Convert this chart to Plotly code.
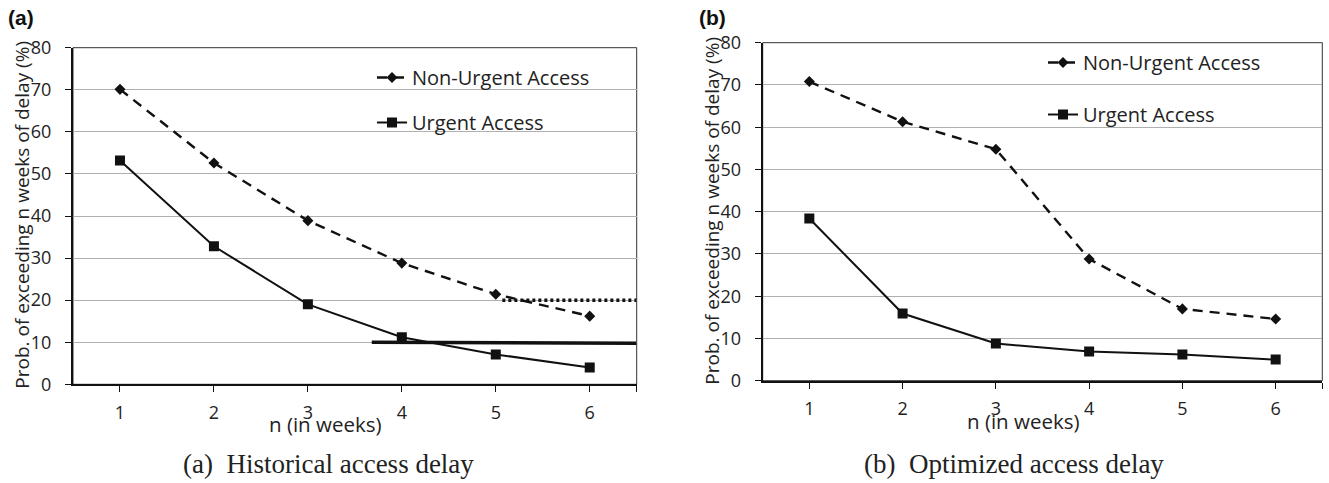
import plotly.graph_objects as go

# ---------------- data ----------------
weeks = [1, 2, 3, 4, 5, 6]
tick_labels = ["1", "2", "3", "4", "5", "6"]

hist_non_urgent = [70.1, 52.6, 38.9, 28.8, 21.4, 16.2]
hist_urgent = [53.2, 32.8, 19.0, 11.2, 7.1, 4.0]

opt_non_urgent = [70.8, 61.3, 54.8, 28.8, 17.0, 14.6]
opt_urgent = [38.4, 15.9, 8.8, 6.9, 6.2, 5.0]

# target lines in panel (a)
target_non_urgent_x = [5.07, 6.5]
target_non_urgent_y = [20.0, 20.0]
target_urgent_x = [3.68, 6.5]
target_urgent_y = [10.0, 9.75]

y_ticks = [0, 10, 20, 30, 40, 50, 60, 70, 80]

# ---------------- figure ----------------
W, H = 1329, 483
SANS = "Open Sans"
SERIF = "Liberation Serif"
INK = "#111111"
TXT = "#222222"

fig = go.Figure()

def add_panel(xa, ya, leg, non_urgent, urgent):
    fig.add_trace(go.Scatter(
        x=weeks, y=non_urgent, mode="lines+markers", name="Non-Urgent Access",
        xaxis=xa, yaxis=ya, legend=leg, legendgroup=leg + "nu",
        line=dict(color=INK, width=2.4, dash="10px,7px"),
        marker=dict(symbol="diamond", size=8.5, color=INK),
    ))
    fig.add_trace(go.Scatter(
        x=weeks, y=urgent, mode="lines+markers", name="Urgent Access",
        xaxis=xa, yaxis=ya, legend=leg, legendgroup=leg + "u",
        line=dict(color=INK, width=2),
        marker=dict(symbol="square", size=10, color=INK),
    ))

add_panel("x", "y", "legend", hist_non_urgent, hist_urgent)
add_panel("x2", "y2", "legend2", opt_non_urgent, opt_urgent)

fig.add_trace(go.Scatter(
    x=target_non_urgent_x, y=target_non_urgent_y, mode="lines", showlegend=False,
    xaxis="x", yaxis="y", line=dict(color=INK, width=3.5, dash="3px,3px"),
))
fig.add_trace(go.Scatter(
    x=target_urgent_x, y=target_urgent_y, mode="lines", showlegend=False,
    xaxis="x", yaxis="y", line=dict(color=INK, width=3.5),
))

# ---------------- axes ----------------
def px_x(p):
    return p / W

def px_y(p):
    return 1 - p / H

xdom1 = [px_x(73), px_x(636.7)]
ydom1 = [px_y(384.3), px_y(47.7)]
xdom2 = [px_x(762.7), px_x(1322.3)]
ydom2 = [px_y(380.7), px_y(42.7)]

xcommon = dict(
    range=[0.5, 6.5], tickvals=weeks + [6.5], ticktext=tick_labels + [""],
    ticks="outside", ticklen=6, tickcolor=INK, tickwidth=1,
    showline=True, linecolor=INK, linewidth=2, showgrid=False, zeroline=False,
    tickfont=dict(family=SANS, size=18, color=TXT),
    ticklabelstandoff=5, fixedrange=True, automargin=False,
)
ycommon = dict(
    range=[0, 80], tickvals=y_ticks, ticks="outside", ticklen=6, tickcolor=INK,
    tickwidth=1, showline=True, linecolor=INK, linewidth=2,
    showgrid=True, gridcolor="#b0b0b0", gridwidth=1, zeroline=False,
    tickfont=dict(family=SANS, size=18, color=TXT),
    ticklabelstandoff=10, fixedrange=True, automargin=False,
)

fig.update_layout(
    width=W, height=H,
    margin=dict(l=0, r=0, t=0, b=0, pad=0, autoexpand=False),
    paper_bgcolor="white", plot_bgcolor="white",
    xaxis=dict(domain=xdom1, anchor="y", **xcommon),
    yaxis=dict(domain=ydom1, anchor="x", **ycommon),
    xaxis2=dict(domain=xdom2, anchor="y2", **xcommon),
    yaxis2=dict(domain=ydom2, anchor="x2", **ycommon),
    legend=dict(x=px_x(372), y=px_y(58), xanchor="left", yanchor="top",
                bgcolor="rgba(0,0,0,0)", tracegroupgap=16,
                font=dict(family=SANS, size=20, color=TXT)),
    legend2=dict(x=px_x(1043), y=px_y(43), xanchor="left", yanchor="top",
                 bgcolor="rgba(0,0,0,0)", tracegroupgap=23,
                 font=dict(family=SANS, size=20, color=TXT)),
    showlegend=True,
)

# frame (top / right borders)
for xr, yr in (("x domain", "y domain"), ("x2 domain", "y2 domain")):
    fig.add_shape(type="rect", xref=xr, yref=yr, x0=0, x1=1, y0=0, y1=1,
                  line=dict(color="#333333", width=1), layer="below")

# ---------------- text ----------------
def txt(text, x, y, size, family=SANS, angle=0, color=TXT):
    return dict(text=text, textangle=angle, x=px_x(x), y=px_y(y),
                xref="paper", yref="paper", xanchor="center", yanchor="middle",
                showarrow=False, font=dict(family=family, size=size, color=color))

ann = [
    txt("Prob. of exceeding n weeks of delay (%)", 21.7, 215, 19, angle=-90),
    txt("Prob. of exceeding n weeks of delay (%)", 711.7, 211, 19, angle=-90),
    txt("n (in weeks)", 325, 424, 20.5),
    txt("n (in weeks)", 1023, 421, 20.5),
    txt("<b>(a)</b>", 21, 18, 21, family="Liberation Sans", color="#111111"),
    txt("<b>(b)</b>", 712, 18, 21, family="Liberation Sans", color="#111111"),
    txt("(a)  Historical access delay", 328, 464, 27, family=SERIF),
    txt("(b)  Optimized access delay", 1014, 464, 27, family=SERIF),
]
fig.update_layout(annotations=ann)

fig.write_html("out.html", config={"displayModeBar": False},
               post_script="document.body.style.margin='0';")
